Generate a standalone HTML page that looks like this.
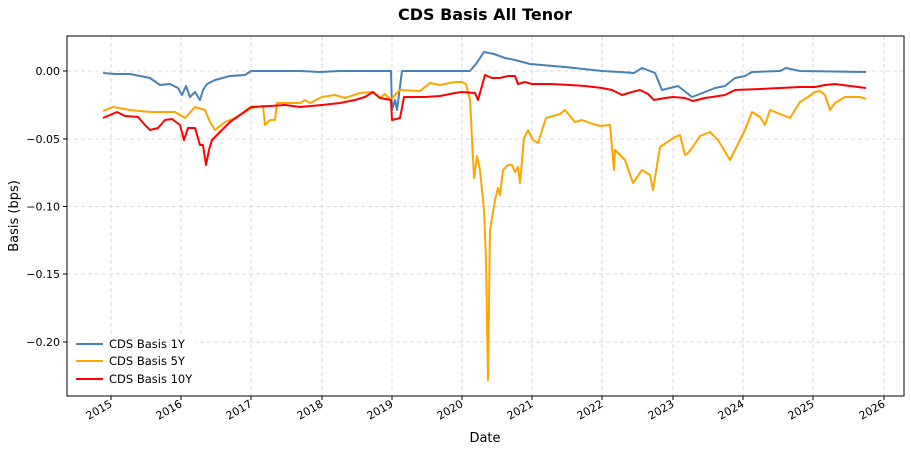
<!DOCTYPE html><html><head><meta charset="utf-8"><style>body{margin:0;background:#fff}svg{display:block;font-family:"DejaVu Sans","Liberation Sans",sans-serif}</style></head><body>
<svg width="911" height="452" xmlns="http://www.w3.org/2000/svg">
<text x="485" y="20" text-anchor="middle" font-size="16" font-weight="bold">CDS Basis All Tenor</text>
<g stroke="#d0d0d0" stroke-dasharray="4,3" stroke-width="0.8">
<line x1="111" y1="36" x2="111" y2="396"/><line x1="181" y1="36" x2="181" y2="396"/><line x1="251" y1="36" x2="251" y2="396"/><line x1="322" y1="36" x2="322" y2="396"/><line x1="392" y1="36" x2="392" y2="396"/><line x1="462" y1="36" x2="462" y2="396"/><line x1="532" y1="36" x2="532" y2="396"/><line x1="602" y1="36" x2="602" y2="396"/><line x1="673" y1="36" x2="673" y2="396"/><line x1="743" y1="36" x2="743" y2="396"/><line x1="813" y1="36" x2="813" y2="396"/><line x1="884" y1="36" x2="884" y2="396"/>
<line x1="67" y1="71" x2="904" y2="71"/><line x1="67" y1="139" x2="904" y2="139"/><line x1="67" y1="206.5" x2="904" y2="206.5"/><line x1="67" y1="274" x2="904" y2="274"/><line x1="67" y1="342" x2="904" y2="342"/>
</g>
<g fill="none" stroke-width="2" stroke-linejoin="round">
<polyline stroke="#4682b4" points="103,73 115,74 130,74 140,76 150,78 160,85 170,84 178,88 182,95 186,86 190,97 195,92 200,100 203,90 207,84 215,80 230,76 245,75 251,71 300,71 320,72 340,71 370,71 391,71 392,110 395,100 397,110 402,71 430,71 470,71 476,64 484,52 494,54 505,58 515,60 530,64 565,67 602,71 620,72 634,73 642,68 650,71 655,73 662,90 678,86 692,97 705,92 715,88 725,86 735,78 745,76 752,72 780,71 786,68 800,71 866,72"/>
<polyline stroke="#ffa500" points="103,111 113,107 130,110 150,112 175,112 185,118 195,107 205,110 210,122 215,130 225,122 235,118 245,112 251,108 263,106 265,125 270,120 275,120 277,103 290,103 300,103 305,100 310,103 322,97 335,95 345,98 360,93 372,92 380,98 385,94 391,100 395,95 400,90 420,91 430,83 440,85 455,82 462,82 466,84 470,100 474,178 477,156 480,170 484,210 486,260 488,380 490,230 495,200 498,188 500,195 503,170 508,165 512,165 515,172 518,167 520,183 524,138 528,130 533,140 538,143 546,118 560,114 565,110 575,122 582,120 590,123 600,126 610,125 614,170 615,150 625,160 633,183 642,170 650,175 653,190 660,147 675,137 680,135 685,155 688,153 692,148 700,136 710,132 718,140 730,160 735,150 740,140 745,130 752,112 760,117 765,125 770,110 780,114 790,118 800,102 808,97 815,92 820,91 825,95 830,110 835,103 845,97 860,97 866,99"/>
<polyline stroke="#ff0000" points="103,118 117,112 125,116 138,117 145,125 150,130 158,128 165,120 172,119 180,125 184,140 188,128 195,128 200,145 203,145 206,165 209,150 212,140 220,132 230,122 240,115 251,107 270,106 285,105 300,107 322,105 340,103 355,100 365,97 373,92 380,98 391,100 392,120 400,118 404,97 415,97 425,97 440,96 455,93 462,92 475,93 478,100 485,75 492,78 500,78 508,76 515,76 518,84 525,82 532,84 550,84 570,85 585,86 602,88 612,90 622,95 632,92 640,90 648,94 654,100 665,98 673,97 685,98 693,101 705,98 712,97 725,95 735,90 760,89 780,88 800,87 815,87 825,85 835,84 850,86 866,88"/>
</g>
<rect x="67" y="36" width="837" height="360" fill="none" stroke="#000" stroke-width="1"/>
<g font-size="11" fill="#000">
<g stroke="#000"><line x1="63" y1="71" x2="67" y2="71"/><line x1="63" y1="139" x2="67" y2="139"/><line x1="63" y1="206.5" x2="67" y2="206.5"/><line x1="63" y1="274" x2="67" y2="274"/><line x1="63" y1="342" x2="67" y2="342"/></g>
<text x="60" y="75" text-anchor="end">0.00</text><text x="60" y="143" text-anchor="end">−0.05</text><text x="60" y="210.5" text-anchor="end">−0.10</text><text x="60" y="278" text-anchor="end">−0.15</text><text x="60" y="346" text-anchor="end">−0.20</text>
<g stroke="#000"><line x1="111" y1="396" x2="111" y2="400"/><line x1="181" y1="396" x2="181" y2="400"/><line x1="251" y1="396" x2="251" y2="400"/><line x1="322" y1="396" x2="322" y2="400"/><line x1="392" y1="396" x2="392" y2="400"/><line x1="462" y1="396" x2="462" y2="400"/><line x1="532" y1="396" x2="532" y2="400"/><line x1="602" y1="396" x2="602" y2="400"/><line x1="673" y1="396" x2="673" y2="400"/><line x1="743" y1="396" x2="743" y2="400"/><line x1="813" y1="396" x2="813" y2="400"/><line x1="884" y1="396" x2="884" y2="400"/></g>
<text transform="translate(113,406) rotate(-30)" text-anchor="end">2015</text><text transform="translate(183,406) rotate(-30)" text-anchor="end">2016</text><text transform="translate(253,406) rotate(-30)" text-anchor="end">2017</text><text transform="translate(324,406) rotate(-30)" text-anchor="end">2018</text><text transform="translate(394,406) rotate(-30)" text-anchor="end">2019</text><text transform="translate(464,406) rotate(-30)" text-anchor="end">2020</text><text transform="translate(534,406) rotate(-30)" text-anchor="end">2021</text><text transform="translate(604,406) rotate(-30)" text-anchor="end">2022</text><text transform="translate(675,406) rotate(-30)" text-anchor="end">2023</text><text transform="translate(745,406) rotate(-30)" text-anchor="end">2024</text><text transform="translate(815,406) rotate(-30)" text-anchor="end">2025</text><text transform="translate(886,406) rotate(-30)" text-anchor="end">2026</text>
</g>
<text x="485" y="442" text-anchor="middle" font-size="13">Date</text>
<text transform="translate(18,216) rotate(-90)" text-anchor="middle" font-size="13">Basis (bps)</text>
<rect x="71" y="335" width="125" height="55" fill="#fff" fill-opacity="0.85"/>
<g font-size="11.5">
<line x1="76" y1="344" x2="103" y2="344" stroke="#4682b4" stroke-width="2"/><text x="109" y="348">CDS Basis 1Y</text>
<line x1="76" y1="361" x2="103" y2="361" stroke="#ffa500" stroke-width="2"/><text x="109" y="365">CDS Basis 5Y</text>
<line x1="76" y1="379" x2="103" y2="379" stroke="#ff0000" stroke-width="2"/><text x="109" y="383">CDS Basis 10Y</text>
</g>
</svg></body></html>
